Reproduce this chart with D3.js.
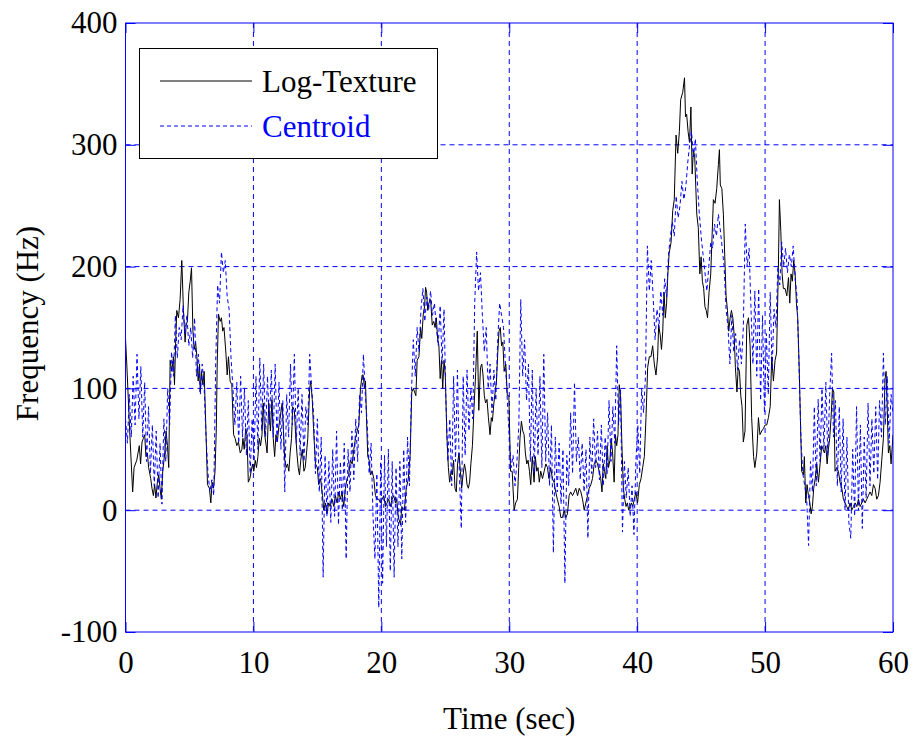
<!DOCTYPE html>
<html><head><meta charset="utf-8">
<script src="https://cdn.jsdelivr.net/npm/d3@7/dist/d3.min.js"></script>
<style>body{margin:0;background:#fff}svg{display:block}</style>
</head><body>
<svg id="chart" width="914" height="740"></svg>
<script>
// ---- data ----
const timeTicks = [0, 10, 20, 30, 40, 50, 60];
const freqTicks = [-100, 0, 100, 200, 300, 400];
const seriesNames = ["Log-Texture", "Centroid"];
const xLabel = "Time (sec)";
const yLabel = "Frequency (Hz)";

// Log-Texture: [time (s), frequency (Hz)]
const texturePoints = [
[0.0,141],[0.1,120],[0.35,60],[0.56,15],[0.67,35],[0.88,41],[1.08,53],[1.18,38],[1.29,56],[1.4,59],[1.5,62],[1.6,44],[1.71,47],[1.81,35],[1.97,26],[2.07,18],[2.18,12],[2.28,21],[2.38,10],[2.49,23],[2.6,29],[2.7,18],[2.8,9],[2.91,32],
[3.07,47],[3.17,65],[3.28,53],[3.38,35],[3.49,123],[3.62,114],[3.75,126],[3.83,103],[3.93,141],[4.01,164],[4.14,158],[4.27,173],[4.4,205],[4.53,164],[4.66,138],[4.74,152],[4.84,155],[4.95,179],[5.06,188],[5.16,199],[5.27,147],[5.37,132],[5.48,138],[5.58,126],[5.68,106],[5.79,120],[5.84,97],[5.94,114],
[6.05,103],[6.15,114],[6.25,79],[6.41,21],[6.56,18],[6.67,6],[6.77,23],[6.88,18],[7.0,32],[7.1,67],[7.17,120],[7.27,161],[7.4,155],[7.5,158],[7.6,147],[7.7,150],[7.85,129],[7.95,111],[8.05,126],[8.18,106],[8.31,103],[8.45,62],[8.57,59],[8.7,53],[8.83,56],[8.97,47],
[9.1,50],[9.18,59],[9.28,50],[9.4,67],[9.5,62],[9.6,23],[9.72,26],[9.83,32],[9.93,38],[10.03,32],[10.14,41],[10.24,35],[10.35,44],[10.46,59],[10.56,53],[10.67,62],[10.77,88],[10.88,62],[11.0,53],[11.07,47],[11.2,88],[11.33,65],[11.45,91],[11.55,59],[11.66,44],[11.76,62],[11.87,56],
[12.0,70],[12.13,79],[12.25,88],[12.35,65],[12.45,41],[12.56,35],[12.66,38],[12.77,32],[12.87,47],[12.98,59],[13.07,85],[13.2,82],[13.3,62],[13.4,47],[13.5,35],[13.6,29],[13.7,41],[13.82,50],[13.95,32],[14.05,35],[14.15,47],[14.25,59],[14.33,82],[14.4,100],[14.48,106],[14.6,91],[14.7,67],[14.85,38],
[15.0,35],[15.1,21],[15.25,26],[15.4,12],[15.5,0],[15.62,6],[15.75,-3],[15.88,6],[16.0,3],[16.15,9],[16.28,3],[16.41,12],[16.54,6],[16.67,15],[16.8,9],[16.93,15],[17.06,3],[17.19,18],[17.32,26],[17.45,29],[17.58,41],[17.72,38],[17.85,50],[17.98,59],
[18.11,65],[18.24,70],[18.37,100],[18.5,111],[18.58,111],[18.68,100],[18.76,106],[18.84,76],[18.94,44],[19.05,41],[19.15,29],[19.28,32],[19.41,26],[19.54,12],[19.67,9],[19.8,9],[19.93,6],[20.06,9],[20.19,12],[20.32,3],[20.45,6],[20.58,9],[20.7,3],[20.84,9],[20.97,12],
[21.1,6],[21.2,9],[21.33,-6],[21.5,-12],[21.6,3],[21.8,0],[21.95,18],[22.1,25],[22.25,45],[22.38,97],[22.5,100],[22.6,97],[22.7,94],[22.8,123],[22.94,126],[23.07,150],[23.16,141],[23.28,161],[23.38,167],[23.46,183],[23.54,179],[23.63,164],[23.72,170],[23.85,173],[23.98,152],
[24.1,155],[24.2,150],[24.3,158],[24.4,141],[24.5,135],[24.6,108],[24.7,123],[24.8,100],[24.9,123],[25.0,111],[25.12,62],[25.24,35],[25.34,23],[25.45,32],[25.55,29],[25.65,41],[25.76,18],[25.86,15],[25.96,38],[26.07,47],[26.18,32],[26.28,18],[26.39,29],[26.5,38],[26.6,32],[26.7,21],[26.8,18],[26.9,23],
[27.0,38],[27.12,53],[27.25,85],[27.38,114],[27.5,147],[27.62,82],[27.75,117],[27.85,120],[27.95,111],[28.05,94],[28.15,88],[28.26,91],[28.37,76],[28.5,62],[28.6,76],[28.68,73],[28.8,88],[28.9,97],[29.0,106],[29.1,129],[29.2,147],[29.3,150],[29.4,135],[29.5,138],[29.6,114],[29.73,120],[29.85,94],[29.97,94],
[30.1,32],[30.23,32],[30.38,0],[30.5,6],[30.64,9],[30.74,35],[30.84,59],[30.95,73],[31.06,65],[31.16,62],[31.26,47],[31.37,38],[31.47,41],[31.58,32],[31.68,21],[31.8,44],[31.94,23],[32.04,44],[32.15,32],[32.25,35],[32.35,23],[32.46,32],[32.6,26],[32.73,32],[32.86,38],[32.99,35],
[33.1,26],[33.24,35],[33.37,26],[33.5,23],[33.63,15],[33.76,9],[33.9,3],[34.03,-6],[34.16,-6],[34.29,0],[34.42,-6],[34.55,-3],[34.68,12],[34.8,15],[34.95,12],[35.08,15],[35.2,18],[35.34,12],[35.47,18],[35.6,15],[35.73,9],[35.86,0],[35.99,6],
[36.12,12],[36.25,18],[36.38,21],[36.51,26],[36.64,38],[36.77,41],[36.9,38],[37.03,32],[37.15,26],[37.25,15],[37.35,38],[37.45,32],[37.55,26],[37.65,53],[37.76,35],[37.87,41],[37.97,59],[38.08,47],[38.2,23],[38.3,62],[38.4,53],[38.5,62],[38.6,103],[38.7,94],[38.81,53],[38.92,18],
[39.03,9],[39.13,3],[39.23,6],[39.34,0],[39.44,3],[39.55,6],[39.65,3],[39.78,9],[39.9,15],[40.03,6],[40.17,21],[40.3,26],[40.43,35],[40.56,44],[40.69,76],[40.82,117],[40.95,126],[41.08,126],[41.21,135],[41.34,120],[41.47,111],[41.6,126],[41.68,152],[41.8,144],[41.9,132],
[42.0,147],[42.1,179],[42.2,158],[42.3,170],[42.4,194],[42.5,211],[42.65,220],[42.78,246],[42.9,255],[43.04,308],[43.17,293],[43.3,311],[43.4,337],[43.56,343],[43.7,355],[43.78,323],[43.87,325],[43.98,311],[44.09,302],[44.2,331],[44.3,276],[44.4,296],[44.5,290],[44.66,243],[44.78,232],[44.9,194],
[45.0,208],[45.1,188],[45.2,182],[45.3,167],[45.4,164],[45.5,158],[45.62,179],[45.75,194],[45.85,223],[45.96,255],[46.09,252],[46.22,264],[46.35,284],[46.43,296],[46.5,267],[46.62,264],[46.74,243],[46.85,208],[46.95,176],[47.06,164],[47.16,147],[47.27,158],[47.37,164],[47.48,158],[47.58,144],[47.68,117],[47.8,97],[47.9,117],
[48.0,114],[48.1,94],[48.2,85],[48.3,56],[48.43,65],[48.57,152],[48.7,158],[48.83,135],[48.95,76],[49.1,44],[49.2,35],[49.35,47],[49.48,76],[49.6,62],[49.74,65],[49.87,67],[50.0,70],[50.13,70],[50.26,76],[50.4,85],[50.52,126],[50.65,106],[50.78,123],[50.9,129],
[51.04,199],[51.12,255],[51.23,229],[51.33,194],[51.43,182],[51.56,182],[51.7,176],[51.83,191],[51.93,170],[52.03,194],[52.13,188],[52.24,205],[52.35,194],[52.45,170],[52.55,158],[52.66,120],[52.76,76],[52.86,32],[53.0,29],[53.07,44],[53.18,6],[53.28,21],[53.39,12],[53.5,6],[53.6,-3],[53.7,3],[53.8,18],[53.92,26],
[54.04,38],[54.17,23],[54.3,38],[54.43,53],[54.53,50],[54.64,47],[54.75,53],[54.85,38],[54.95,50],[55.05,59],[55.16,76],[55.27,100],[55.37,97],[55.47,32],[55.6,35],[55.73,32],[55.86,23],[56.0,18],[56.12,9],[56.25,6],[56.38,3],[56.51,0],[56.64,6],[56.78,0],[56.91,3],
[57.04,6],[57.17,3],[57.3,9],[57.43,3],[57.56,6],[57.69,9],[57.82,6],[57.95,9],[58.08,12],[58.21,15],[58.34,12],[58.47,21],[58.6,18],[58.73,9],[58.86,12],[58.99,23],[59.12,41],[59.25,59],[59.38,108],[59.46,114],[59.54,88],[59.64,47],[59.75,53],[59.85,38],[60.0,62]
];

// Centroid: sampled every 0.15 s from 0 to 60 s (Hz)
const centroidStep = 0.15;
const centroidFreq = [
75,55,95,60,110,
70,128,75,118,60,105,
40,85,30,70,20,65,
10,55,5,75,
40,100,70,130, 110,160,125,150, 140,168,145,160, 135,150,125,158,
110,128,95,120,100, 60,30,15,25,12,
120,185,170,212, 195,205,175,165, 125,100,70,105, 55,110,60,100, 45,90,30,75,
40,110,50,125, 65,120,60,110, 70,115,60,120, 55,105,50,90, 15,95,60,120,
70,128,55,100, 45,95,40,85, 70,128,100,80, 30,75,15,60, -55,45,-5,40,
-10,50,-5,65, -12,40,0,55, -40,50,15,65, 25,75,40,95, 80,128,95,70,
30,55,-5,-40, 30,-80,40,-60, 45,-30,50,-50, 40,-55,35,-30, 40,-40,50,-10,
60,20,95,140, 110,150,130,165, 182,155,175,165, 180,160,170,150, 135,168,120,165,
90,40,75,20, 110,40,115,30, -15,110,45,115, 65,100,75,170, 212,180,195,160,
130,150,100,120, 80,115,90,140, 170,160,150,120, 90,60,35,45, 20,40,70,173,
110,140,90,120, 40,115,30,100, 45,110,35,128, 40,80,20,70, -35,60,15,55,
5,50,-60,45, 20,80,30,105, 40,60,25,55, 15,50,-23,60, 30,75,35,65,
25,70,20,60, 30,90,40,85, 55,135,70,100, -18,40,10,35, -5,20,-20,40,
70,30,100,80, 110,217,180,205, 175,140,165,150, 180,160,190,175, 210,225,237,225,
258,240,250,270, 255,265,285,300, 311,290,305,270, 245,225,210,195, 180,200,220,215,
235,225,243,230, 215,200,165,150, 120,160,130,145, 115,140,120,150, 235,200,215,165,
120,180,110,182, 90,160,80,145, 95,179,115,165, 150,200,185,220, 200,215,195,210,
200,217,190,175, 120,60,30,20, 10,-29,40,15, 85,20,91,40, 100,50,105,45,
95,129,60,90, 20,85,15,75, 0,60,-10,-23, 50,-5,85,0, 70,-15,60,10,
88,20,75,30, 85,25,90,60, 129,70,110,55, 95,80
];

// ---- drawing ----
const svg = d3.select("#chart");
const font = "'Liberation Serif','Times New Roman',serif";
const blue = "#0000ff";
const L = 125.5, R = 893, T = 23, B = 632;
const x = d3.scaleLinear().domain([0, 60]).range([L, R]);
const y = d3.scaleLinear().domain([-100, 400]).range([B, T]);
const plainNum = d => String(d);

svg.append("rect").attr("width", 914).attr("height", 740).attr("fill", "#fff");

// grid
const grid = svg.append("g").attr("stroke", blue).attr("stroke-width", 1).attr("stroke-dasharray", "5,4").attr("fill", "none");
timeTicks.filter(t => t > 0 && t < 60).forEach(t => {
  grid.append("line").attr("x1", x(t)).attr("x2", x(t)).attr("y1", T).attr("y2", B);
});
freqTicks.filter(v => v > -100 && v < 400).forEach(v => {
  grid.append("line").attr("x1", L).attr("x2", R).attr("y1", y(v)).attr("y2", y(v));
});

// series
svg.append("defs").append("clipPath").attr("id", "clip")
  .append("rect").attr("x", L).attr("y", T).attr("width", R - L).attr("height", B - T);
const line = d3.line().x(d => x(d[0])).y(d => y(d[1]));
const centroidPoints = centroidFreq.map((v, i) => [i * centroidStep, v]);
const plot = svg.append("g").attr("clip-path", "url(#clip)");
plot.append("path").datum(texturePoints).attr("d", line)
  .attr("fill", "none").attr("stroke", "#000").attr("stroke-width", 1);
plot.append("path").datum(centroidPoints).attr("d", line)
  .attr("fill", "none").attr("stroke", blue).attr("stroke-width", 1).attr("stroke-dasharray", "4,3");

// axes
function styleAxis(g) {
  g.select(".domain").remove();
  g.selectAll(".tick line").attr("stroke", blue);
  g.selectAll(".tick text").attr("font-family", font).attr("font-size", 31).attr("fill", "#000");
}
svg.append("g").attr("transform", `translate(0,${B})`)
  .call(d3.axisBottom(x).tickValues(timeTicks).tickFormat(plainNum).tickSizeInner(-10).tickSizeOuter(0).tickPadding(19))
  .call(styleAxis);
svg.append("g").attr("transform", `translate(0,${T})`)
  .call(d3.axisTop(x).tickValues(timeTicks).tickFormat("").tickSizeInner(-10).tickSizeOuter(0))
  .call(styleAxis);
svg.append("g").attr("transform", `translate(${L},0)`)
  .call(d3.axisLeft(y).tickValues(freqTicks).tickFormat(plainNum).tickSizeInner(-10).tickSizeOuter(0).tickPadding(8))
  .call(styleAxis);
svg.append("g").attr("transform", `translate(${R},0)`)
  .call(d3.axisRight(y).tickValues(freqTicks).tickFormat("").tickSizeInner(-10).tickSizeOuter(0))
  .call(styleAxis);

// frame
svg.append("rect").attr("x", L).attr("y", T).attr("width", R - L).attr("height", B - T)
  .attr("fill", "none").attr("stroke", blue).attr("stroke-width", 1);

// axis titles
svg.append("text").attr("x", (L + R) / 2).attr("y", 729).attr("text-anchor", "middle")
  .attr("font-family", font).attr("font-size", 31).text(xLabel);
svg.append("text").attr("transform", `translate(38,${(T + B) / 2 - 4}) rotate(-90)`).attr("text-anchor", "middle")
  .attr("font-family", font).attr("font-size", 31).text(yLabel);

// legend
const lg = svg.append("g");
lg.append("rect").attr("x", 139.5).attr("y", 48.5).attr("width", 298).attr("height", 110)
  .attr("fill", "#fff").attr("stroke", "#000").attr("stroke-width", 1);
lg.append("line").attr("x1", 160).attr("x2", 252).attr("y1", 81).attr("y2", 81).attr("stroke", "#000").attr("stroke-width", 1);
lg.append("text").attr("x", 262).attr("y", 92).attr("font-family", font).attr("font-size", 31).attr("fill", "#000").text(seriesNames[0]);
lg.append("line").attr("x1", 160).attr("x2", 252).attr("y1", 126).attr("y2", 126).attr("stroke", blue).attr("stroke-width", 1).attr("stroke-dasharray", "4,3");
lg.append("text").attr("x", 262).attr("y", 137).attr("font-family", font).attr("font-size", 31).attr("fill", blue).text(seriesNames[1]);
</script>
</body></html>
